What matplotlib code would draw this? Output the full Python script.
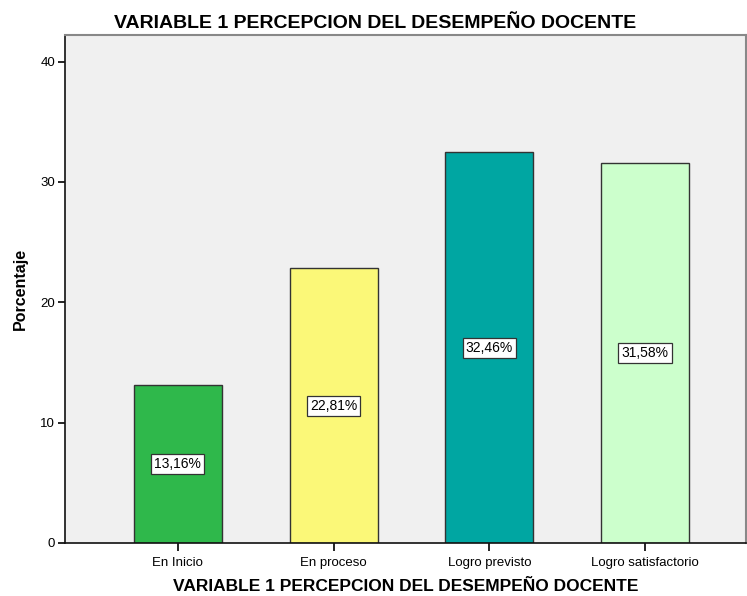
import matplotlib
matplotlib.use("Agg")
import matplotlib.pyplot as plt

categories = ["En Inicio", "En proceso", "Logro previsto", "Logro satisfactorio"]
percentages = [13.16, 22.81, 32.46, 31.58]
labels = ["13,16%", "22,81%", "32,46%", "31,58%"]
colors = ["#2fb84b", "#fbf878", "#00a6a2", "#ccffcc"]
yticks = [0, 10, 20, 30, 40]

plt.rcParams["font.family"] = ["Liberation Sans", "DejaVu Sans"]

fig = plt.figure(figsize=(7.47, 5.96), dpi=100)
ax = fig.add_axes([0.087, 0.089, 0.912, 0.852])
ax.set_facecolor("#f0f0f0")

x = range(len(categories))
ax.bar(x, percentages, width=0.565, color=colors, edgecolor="#333333", linewidth=1.0, zorder=2)

for xi, v, lab in zip(x, percentages, labels):
    ax.text(xi, v / 2, lab, ha="center", va="center", fontsize=10, zorder=3,
            bbox=dict(boxstyle="square,pad=0.22", facecolor="white", edgecolor="#333333", linewidth=0.9))

ax.set_xlim(-0.725, 3.65)
ax.set_ylim(0, 42.2)
ax.set_yticks(yticks)
ax.set_xticks(list(x))
ax.set_xticklabels(categories, fontsize=9.5)
ax.tick_params(axis="y", labelsize=9.5, length=5, width=1.2, pad=2)
ax.tick_params(axis="x", length=6, width=1.2, pad=4)

for side in ["top", "right"]:
    ax.spines[side].set_color("#888888")
    ax.spines[side].set_linewidth(1.5)
for side in ["left", "bottom"]:
    ax.spines[side].set_color("#111111")
    ax.spines[side].set_linewidth(1.2)

ax.set_ylabel("Porcentaje", fontsize=11.5, fontweight="bold", labelpad=9)
ax.set_xlabel("VARIABLE 1 PERCEPCION DEL DESEMPEÑO DOCENTE", fontsize=12.5, fontweight="bold", labelpad=7)
ax.set_title("VARIABLE 1 PERCEPCION DEL DESEMPEÑO DOCENTE", fontsize=14, fontweight="bold", pad=5, x=0.455)

fig.savefig("out.png", dpi=100)
